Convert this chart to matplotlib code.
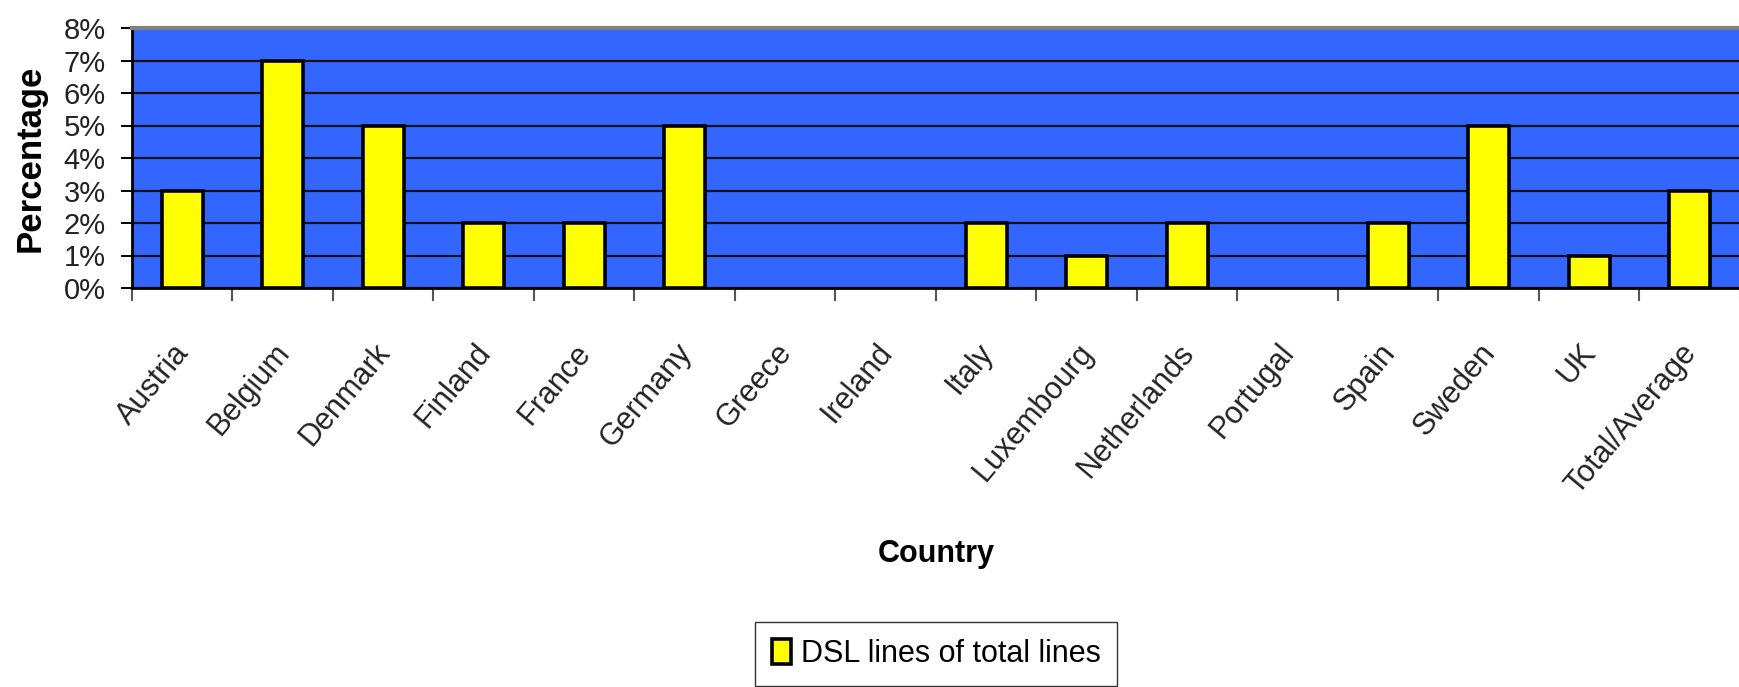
import matplotlib
matplotlib.use("Agg")
import matplotlib.pyplot as plt
import matplotlib.transforms as mtransforms
from matplotlib.ticker import FixedLocator, PercentFormatter
import numpy as np

plt.rcParams['font.family'] = ['Liberation Sans', 'DejaVu Sans']

countries = ["Austria", "Belgium", "Denmark", "Finland", "France", "Germany",
             "Greece", "Ireland", "Italy", "Luxembourg", "Netherlands",
             "Portugal", "Spain", "Sweden", "UK", "Total/Average"]
dsl_share = [3, 7, 5, 2, 2, 5, 0, 0, 2, 1, 2, 0, 2, 5, 1, 3]
y_ticks = [0, 1, 2, 3, 4, 5, 6, 7, 8]
series_name = "DSL lines of total lines"

W, H = 1740, 687
fig = plt.figure(figsize=(W / 100, H / 100), dpi=100)
# plot area in pixels: x 132..1740, y 28..288
ax = fig.add_axes([132 / W, 1 - 288 / H, (W - 132) / W, 260 / H])
ax.set_facecolor('#3366FF')

x = np.arange(len(countries))
bars = ax.bar(x, dsl_share, width=0.41, color='#FFFF00', edgecolor='black',
              linewidth=2.6, label=series_name, zorder=3)
# empty categories show no mark at all
for b, v in zip(bars, dsl_share):
    if v == 0:
        b.set_visible(False)

ax.set_xlim(-0.5, len(countries) - 0.5)
ax.set_ylim(0, 8)

# y axis
ax.yaxis.set_major_locator(FixedLocator(y_ticks))
ax.yaxis.set_major_formatter(PercentFormatter(decimals=0))
ax.tick_params(axis='y', length=8, width=1.4, color='black', pad=11,
               labelsize=21, labelcolor='#222222')
ax.grid(axis='y', color='#111111', linewidth=1.6)
ax.set_axisbelow(True)

# x axis: ticks at boundaries, labels at centres
ax.xaxis.set_major_locator(FixedLocator(np.arange(len(countries) + 1) - 0.5))
ax.xaxis.set_major_formatter(plt.NullFormatter())
ax.xaxis.set_minor_locator(FixedLocator(x))
ax.set_xticks(x, countries, minor=True)
ax.tick_params(axis='x', which='major', length=9, width=1.5, color='#555555')
ax.tick_params(axis='x', which='minor', length=0, pad=36, labelsize=22,
               labelcolor='#222222')
offset = mtransforms.ScaledTranslation(-10 / 100, 0, fig.dpi_scale_trans)
for lab in ax.get_xticklabels(minor=True):
    lab.set_rotation(50)
    lab.set_ha('right')
    lab.set_va('top')
    lab.set_rotation_mode('anchor')
    lab.set_transform(lab.get_transform() + offset)

for s in ['left', 'bottom']:
    ax.spines[s].set_color('black')
    ax.spines[s].set_linewidth(2)
ax.spines['top'].set_color('#808080')
ax.spines['top'].set_linewidth(3)
ax.spines['right'].set_visible(False)

ax.set_ylabel("Percentage", fontsize=25, fontweight='bold', va='center')
ax.yaxis.set_label_coords(-0.0634, 0.5)
ax.set_xlabel("Country", fontsize=22, fontweight='bold', va='baseline')
ax.xaxis.set_label_coords(0.5, -1.054)

fig.legend(loc='upper center', bbox_to_anchor=(936 / W, 1 - 622 / H),
           fontsize=22, frameon=True, fancybox=False, edgecolor='#333333',
           framealpha=1, borderpad=0.55, handlelength=0.65,
           handleheight=0.9, handletextpad=0.3, borderaxespad=0)

fig.savefig("out.png", dpi=100)
